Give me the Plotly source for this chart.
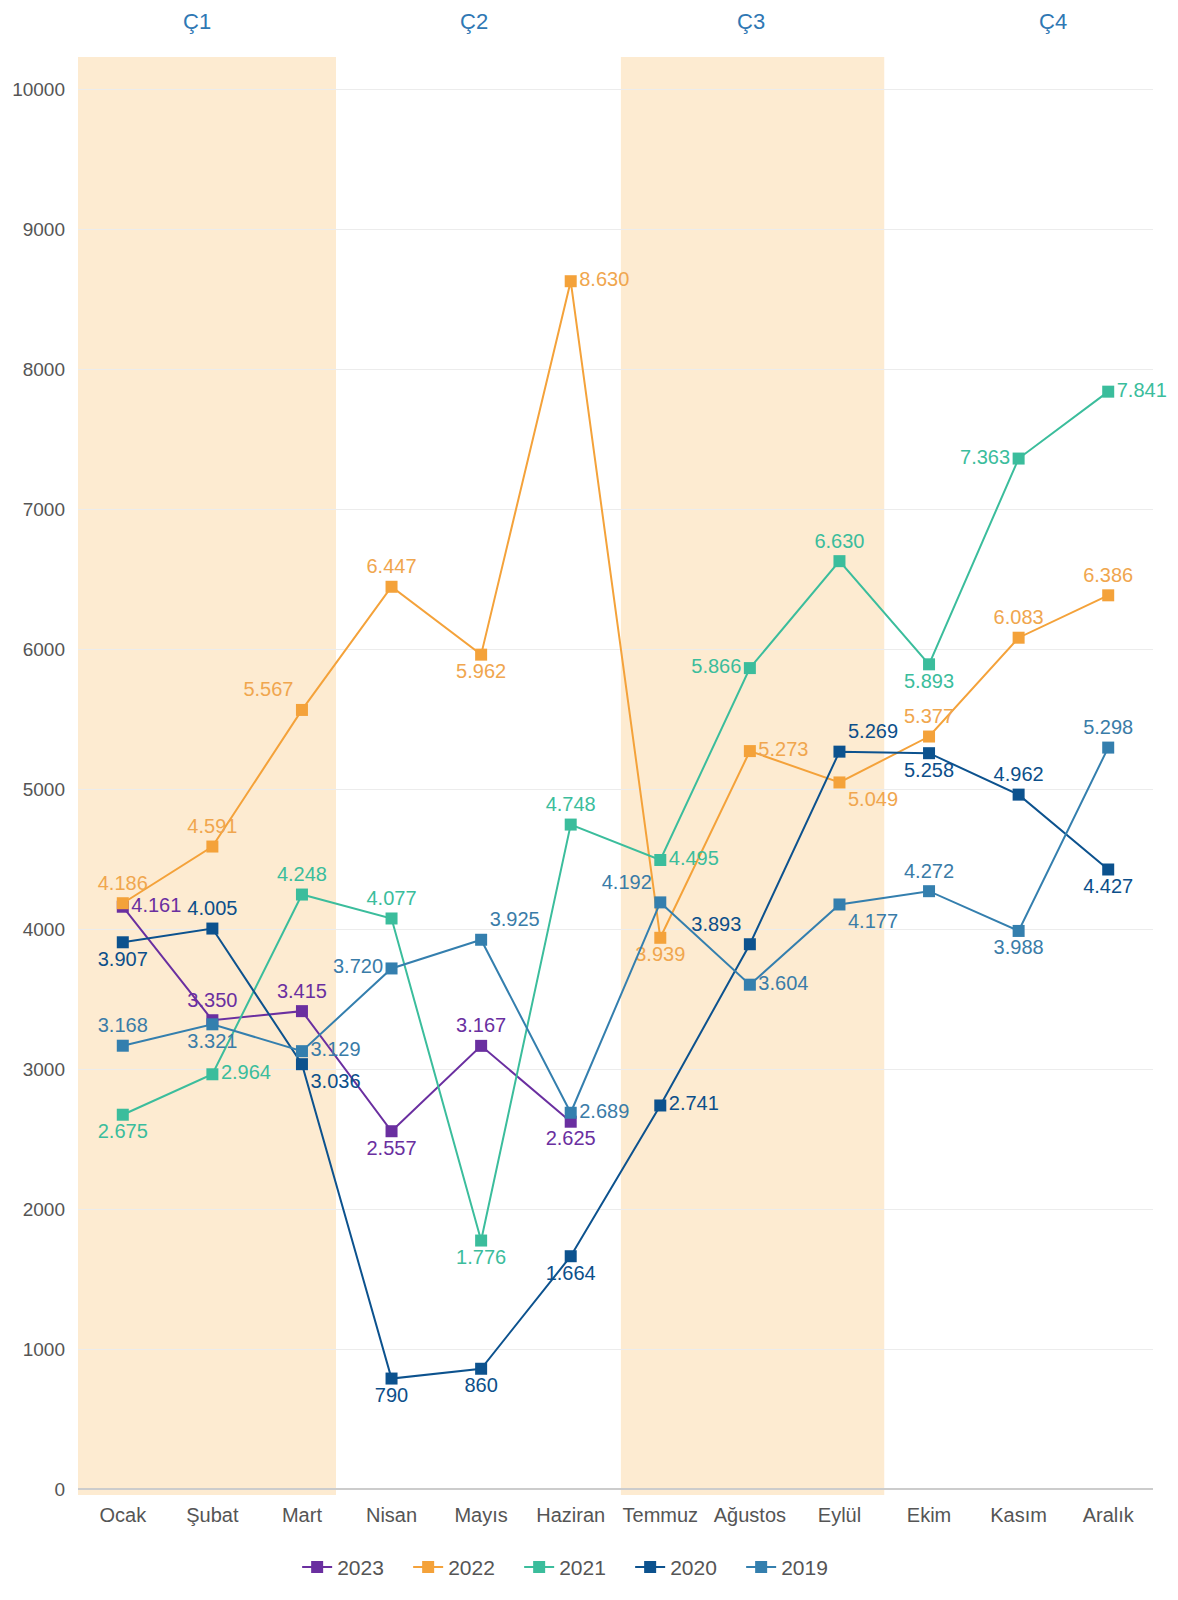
import plotly.graph_objects as go

months = ["Ocak", "Şubat", "Mart", "Nisan", "Mayıs", "Haziran", "Temmuz",
          "Ağustos", "Eylül", "Ekim", "Kasım", "Aralık"]

v2023 = [4161, 3350, 3415, 2557, 3167, 2625, None, None, None, None, None, None]
v2022 = [4186, 4591, 5567, 6447, 5962, 8630, 3939, 5273, 5049, 5377, 6083, 6386]
v2021 = [2675, 2964, 4248, 4077, 1776, 4748, 4495, 5866, 6630, 5893, 7363, 7841]
v2020 = [3907, 4005, 3036, 790, 860, 1664, 2741, 3893, 5269, 5258, 4962, 4427]
v2019 = [3168, 3321, 3129, 3720, 3925, 2689, 4192, 3604, 4177, 4272, 3988, 5298]

pos2023 = ["middle right", "top center", "top center", "bottom center", "top center", "bottom center",
           "top center", "top center", "top center", "top center", "top center", "top center"]
pos2022 = ["top center", "top center", "top left", "top center", "bottom center", "middle right",
           "bottom center", "middle right", "bottom right", "top center", "top center", "top center"]
pos2021 = ["bottom center", "middle right", "top center", "top center", "bottom center", "top center",
           "middle right", "middle left", "top center", "bottom center", "middle left", "middle right"]
pos2020 = ["bottom center", "top center", "bottom right", "bottom center", "bottom center", "bottom center",
           "middle right", "top left", "top right", "bottom center", "top center", "bottom center"]
pos2019 = ["top center", "bottom center", "middle right", "middle left", "top right", "middle right",
           "top left", "middle right", "bottom right", "top center", "bottom center", "top center"]

quarters = ["Ç1", "Ç2", "Ç3", "Ç4"]
quarter_x = [0.83, 3.92, 7.01, 10.38]

def fmt(v):
    if v is None:
        return ""
    return f"{v:,}".replace(",", ".")

series = [
    ("2023", v2023, pos2023, "#6a2fa0", "#6a2fa0"),
    ("2022", v2022, pos2022, "#f4a23a", "#f0a64e"),
    ("2021", v2021, pos2021, "#3bbd9c", "#3bbd9c"),
    ("2020", v2020, pos2020, "#0c528e", "#0c4f8a"),
    ("2019", v2019, pos2019, "#347fae", "#3a7ca8"),
]

FONT = "Liberation Sans, Arial, sans-serif"

fig = go.Figure()
for name, vals, pos, col, tcol in series:
    fig.add_trace(go.Scatter(
        x=months, y=vals, name=name, mode="lines+markers+text",
        line=dict(color=col, width=2),
        marker=dict(symbol="square", size=12, color=col),
        text=[fmt(v) for v in vals], textposition=pos,
        textfont=dict(family=FONT, size=20, color=tcol),
        cliponaxis=False, hoverinfo="skip",
    ))

# quarter shading
for x0, x1 in [(-0.52, 2.38), (5.56, 8.5)]:
    fig.add_shape(type="rect", xref="x", yref="paper", x0=x0, x1=x1, y0=0, y1=1,
                  fillcolor="#fdebd1", line=dict(width=0), layer="below")

for q, qx in zip(quarters, quarter_x):
    fig.add_annotation(x=qx, xref="x", y=1, yref="paper", yanchor="middle", yshift=36, text=q,
                       showarrow=False, font=dict(family=FONT, size=22, color="#2f78b4"))

fig.update_layout(
    width=1178, height=1600,
    margin=dict(l=78, r=25, t=57, b=82),
    plot_bgcolor="white", paper_bgcolor="white",
    font=dict(family=FONT, size=20, color="#555555"),
    showlegend=True,
    legend=dict(orientation="h", x=0.462, xanchor="center", y=-0.036, yanchor="top",
                font=dict(family=FONT, size=21, color="#555555"),
                entrywidth=66, entrywidthmode="pixels",
                traceorder="normal"),
    xaxis=dict(type="category", range=[-0.5, 11.5], showgrid=False, showline=False,
               zeroline=False, ticks="", ticklabelstandoff=6,
               tickfont=dict(size=20, color="#555555")),
    yaxis=dict(range=[-42, 10232], dtick=1000, tick0=0, tickformat="d",
               showgrid=True, gridcolor="#ececec",
               gridwidth=1, zeroline=True, zerolinecolor="#cccccc", zerolinewidth=2,
               showline=False, ticks="", ticklabelstandoff=12,
               tickfont=dict(size=19, color="#555555")),
)

fig.write_html("out.html", config={"displayModeBar": False},
               post_script="document.body.style.margin='0px';document.body.style.overflow='hidden';")
